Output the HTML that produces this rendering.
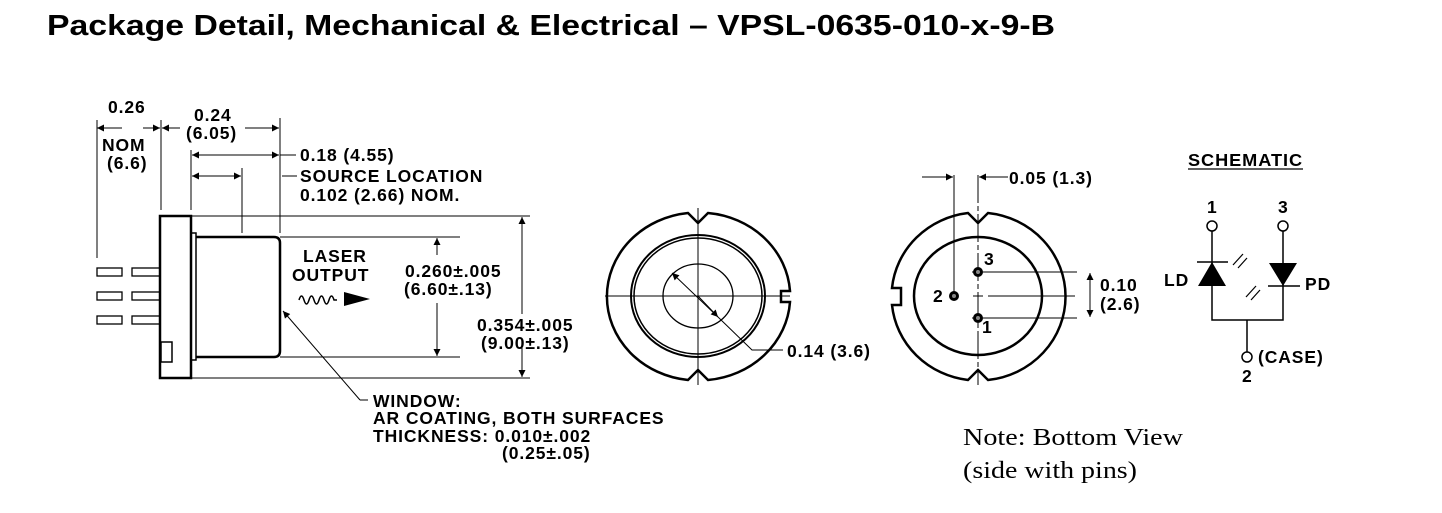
<!DOCTYPE html>
<html><head><meta charset="utf-8"><style>
html,body{margin:0;padding:0;background:#fff;width:1442px;height:513px;overflow:hidden}
svg{display:block}
.t{font-family:"Liberation Sans",Arial,sans-serif;font-weight:bold;font-size:17.5px;letter-spacing:0.9px;fill:#000}
.s{font-family:"Liberation Serif",serif;font-size:24px;fill:#000}
</style></head><body>
<svg width="1442" height="513" viewBox="0 0 1442 513" xmlns="http://www.w3.org/2000/svg">
<defs>
<marker id="a" viewBox="0 0 10 10" refX="10" refY="5" markerWidth="10" markerHeight="7" markerUnits="userSpaceOnUse" orient="auto-start-reverse"><path d="M0,0 L10,5 L0,10z" fill="#000"/></marker>
</defs>
<text x="47" y="35" font-family="Liberation Sans,Arial,sans-serif" font-weight="bold" font-size="29" textLength="1008" lengthAdjust="spacingAndGlyphs">Package Detail, Mechanical &amp; Electrical – VPSL-0635-010-x-9-B</text>

<g stroke="#000" fill="none" stroke-width="1">
<line x1="97" y1="120" x2="97" y2="258"/>
<line x1="161" y1="120" x2="161" y2="210"/>
<line x1="191" y1="150" x2="191" y2="210"/>
<line x1="242" y1="168" x2="242" y2="233"/>
<line x1="280" y1="118" x2="280" y2="233"/>
<line x1="122" y1="128" x2="97" y2="128" marker-end="url(#a)"/>
<line x1="143" y1="128" x2="160" y2="128" marker-end="url(#a)"/>
<line x1="180" y1="128" x2="162" y2="128" marker-end="url(#a)"/>
<line x1="245" y1="128" x2="279" y2="128" marker-end="url(#a)"/>
<line x1="192" y1="155" x2="279" y2="155" marker-start="url(#a)" marker-end="url(#a)"/>
<line x1="280" y1="155" x2="296" y2="155"/>
<line x1="192" y1="176" x2="241" y2="176" marker-start="url(#a)" marker-end="url(#a)"/>
<line x1="282" y1="176" x2="297" y2="176"/>
<line x1="191" y1="216" x2="530" y2="216"/>
<line x1="280" y1="237" x2="460" y2="237"/>
<line x1="280" y1="357" x2="460" y2="357"/>
<line x1="191" y1="378" x2="530" y2="378"/>
<line x1="437" y1="255" x2="437" y2="238" marker-end="url(#a)"/>
<line x1="437" y1="303" x2="437" y2="356" marker-end="url(#a)"/>
<line x1="522" y1="314" x2="522" y2="217" marker-end="url(#a)"/>
<line x1="522" y1="348" x2="522" y2="377" marker-end="url(#a)"/>
<rect x="160" y="216" width="31" height="162" stroke-width="2.5"/>
<rect x="161" y="342" width="11" height="20" stroke-width="1.5"/>
<rect x="191" y="233" width="5" height="127" stroke-width="1.5"/>
<path d="M196,237 H274 Q280,237 280,243 V351 Q280,357 274,357 H196" stroke-width="2.5"/>
<rect x="97" y="268" width="25" height="8" stroke-width="1.3"/>
<rect x="132" y="268" width="28" height="8" stroke-width="1.3"/>
<rect x="97" y="292" width="25" height="8" stroke-width="1.3"/>
<rect x="132" y="292" width="28" height="8" stroke-width="1.3"/>
<rect x="97" y="316" width="25" height="8" stroke-width="1.3"/>
<rect x="132" y="316" width="28" height="8" stroke-width="1.3"/>
<path d="M299,300 q2.5,-8 5,0 q2.5,8 5,0 q2.5,-8 5,0 q2.5,8 5,0 q2.5,-8 5,0 q2.5,8 5,0 q2.5,-8 5,0 h3" stroke-width="1.5"/>
<polyline points="360,400 368,400"/>
<line x1="360" y1="400" x2="283" y2="311" marker-end="url(#a)"/>

<path d="M688,213 L698,223 L708,213 A91,84 0 0 1 790,291 H781 V302 H790 A91,84 0 0 1 708,380 L698,370 L688,380 A91,84 0 0 1 688,213 Z" stroke-width="2.5"/>
<ellipse cx="698" cy="296" rx="67" ry="61" stroke-width="2"/>
<ellipse cx="698" cy="296" rx="64" ry="58" stroke-width="1.5"/>
<ellipse cx="698" cy="296" rx="35" ry="32" stroke-width="1.3"/>
<line x1="605" y1="296" x2="790" y2="296"/>
<line x1="698" y1="208" x2="698" y2="385"/>
<line x1="718" y1="317" x2="672" y2="273" marker-end="url(#a)"/>
<line x1="698" y1="296" x2="718" y2="317" marker-end="url(#a)"/>
<polyline points="718,317 752,350 783,350"/>

<path d="M968,213 L978,223 L988,213 A87,84 0 0 1 988,380 L978,370 L968,380 A87,84 0 0 1 892,305 H901 V288 H892 A87,84 0 0 1 968,213 Z" stroke-width="2.5"/>
<ellipse cx="978" cy="296" rx="64" ry="59" stroke-width="2.5"/>
<line x1="954" y1="175" x2="954" y2="296"/>
<line x1="978" y1="175" x2="978" y2="385" stroke-dasharray="28,3,5,3"/>
<line x1="922" y1="177" x2="953" y2="177" marker-end="url(#a)"/>
<line x1="1008" y1="177" x2="979" y2="177" marker-end="url(#a)"/>
<line x1="972" y1="272" x2="1077" y2="272"/>
<line x1="972" y1="318" x2="1077" y2="318"/>
<line x1="973" y1="296" x2="983" y2="296"/>
<line x1="988" y1="296" x2="1075" y2="296"/>
<line x1="1090" y1="285" x2="1090" y2="273" marker-end="url(#a)"/>
<line x1="1090" y1="305" x2="1090" y2="317" marker-end="url(#a)"/>
<line x1="1090" y1="285" x2="1090" y2="305"/>
</g>
<g fill="#000">
<circle cx="978" cy="272" r="5"/><circle cx="954" cy="296" r="5"/><circle cx="978" cy="318" r="5"/>
</g>
<g fill="#888"><circle cx="978" cy="272" r="2"/><circle cx="954" cy="296" r="2"/><circle cx="978" cy="318" r="2"/></g>
<path d="M344,292 L370,299 L344,306z" fill="#000"/>

<text class="t" x="108" y="113">0.26</text>
<text class="t" x="102" y="151">NOM</text>
<text class="t" x="107" y="169">(6.6)</text>
<text class="t" x="194" y="121">0.24</text>
<text class="t" x="186" y="139">(6.05)</text>
<text class="t" x="300" y="161">0.18 (4.55)</text>
<text class="t" x="300" y="182">SOURCE LOCATION</text>
<text class="t" x="300" y="201">0.102 (2.66) NOM.</text>
<text class="t" x="303" y="262">LASER</text>
<text class="t" x="292" y="281">OUTPUT</text>
<text class="t" x="405" y="277">0.260±.005</text>
<text class="t" x="404" y="295">(6.60±.13)</text>
<text class="t" x="477" y="331">0.354±.005</text>
<text class="t" x="481" y="349">(9.00±.13)</text>
<text class="t" x="373" y="407">WINDOW:</text>
<text class="t" x="373" y="424">AR COATING, BOTH SURFACES</text>
<text class="t" x="373" y="442">THICKNESS:  0.010±.002</text>
<text class="t" x="502" y="459">(0.25±.05)</text>
<text class="t" x="787" y="357">0.14 (3.6)</text>
<text class="t" x="1009" y="184">0.05 (1.3)</text>
<text class="t" x="984" y="265">3</text>
<text class="t" x="933" y="302">2</text>
<text class="t" x="982" y="333">1</text>
<text class="t" x="1100" y="291">0.10</text>
<text class="t" x="1100" y="310">(2.6)</text>
<text class="s" x="963" y="445" textLength="220" lengthAdjust="spacingAndGlyphs">Note: Bottom View</text>
<text class="s" x="963" y="478" textLength="174" lengthAdjust="spacingAndGlyphs">(side with pins)</text>

<text class="t" x="1188" y="166" textLength="115" lengthAdjust="spacingAndGlyphs">SCHEMATIC</text>
<line x1="1188" y1="169" x2="1303" y2="169" stroke="#000" stroke-width="1.2"/>
<g stroke="#000" fill="none" stroke-width="1.5">
<circle cx="1212" cy="226" r="5" fill="#fff"/>
<circle cx="1283" cy="226" r="5" fill="#fff"/>
<circle cx="1247" cy="357" r="5" fill="#fff"/>
<polyline points="1212,231 1212,320 1283,320 1283,231"/>
<line x1="1247" y1="320" x2="1247" y2="352"/>
<line x1="1197" y1="262" x2="1228" y2="262"/>
<line x1="1268" y1="286" x2="1300" y2="286"/>
<line x1="1233" y1="265" x2="1243" y2="254" stroke-width="1.2"/>
<line x1="1238" y1="268" x2="1247" y2="258" stroke-width="1.2"/>
<line x1="1246" y1="297" x2="1256" y2="286" stroke-width="1.2"/>
<line x1="1251" y1="300" x2="1260" y2="290" stroke-width="1.2"/>
</g>
<path d="M1212,262 L1198,286 L1226,286z M1269,263 L1297,263 L1283,286z" fill="#000"/>
<text class="t" x="1207" y="213">1</text>
<text class="t" x="1278" y="213">3</text>
<text class="t" x="1164" y="286">LD</text>
<text class="t" x="1305" y="290">PD</text>
<text class="t" x="1258" y="363">(CASE)</text>
<text class="t" x="1242" y="382">2</text>
</svg>
</body></html>
